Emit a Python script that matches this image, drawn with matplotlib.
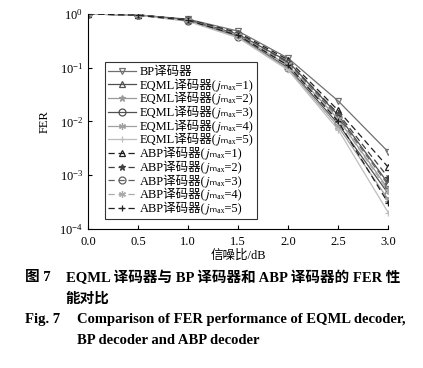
import numpy as np
import matplotlib
matplotlib.use("Agg")
import matplotlib.pyplot as plt

plt.rcParams['font.family'] = ['Liberation Serif', 'Noto Sans CJK SC', 'STIXGeneral', 'DejaVu Sans']
plt.rcParams['mathtext.fontset'] = 'stix'

snr = [0.0, 0.5, 1.0, 1.5, 2.0, 2.5, 3.0]

fer_bp = [1.0, 0.96, 0.80, 0.48, 0.15, 0.024, 2.7e-3]
fer_eqml_1 = [1.0, 0.96, 0.78, 0.42, 0.13, 0.013, 7.0e-4]
fer_eqml_2 = [1.0, 0.95, 0.76, 0.40, 0.11, 0.011, 5.5e-4]
fer_eqml_3 = [1.0, 0.95, 0.75, 0.38, 0.10, 0.009, 4.5e-4]
fer_eqml_4 = [1.0, 0.95, 0.74, 0.37, 0.095, 0.008, 3.5e-4]
fer_eqml_5 = [1.0, 0.95, 0.73, 0.36, 0.09, 0.007, 2.0e-4]
fer_abp_1 = [1.0, 0.96, 0.79, 0.45, 0.14, 0.016, 1.4e-3]
fer_abp_2 = [1.0, 0.96, 0.78, 0.43, 0.125, 0.014, 9.0e-4]
fer_abp_3 = [1.0, 0.96, 0.77, 0.42, 0.12, 0.012, 6.5e-4]
fer_abp_4 = [1.0, 0.95, 0.76, 0.41, 0.115, 0.011, 5.0e-4]
fer_abp_5 = [1.0, 0.95, 0.76, 0.40, 0.11, 0.010, 3.0e-4]

# plain text labels (italic j + subscript "max" as unicode), so the CJK fallback works
labels = ['BP译码器'] + \
    ['EQML译码器(\U0001D457\u2098\u2090\u2093=%d)' % i for i in range(1, 6)] + \
    ['ABP译码器(\U0001D457\u2098\u2090\u2093=%d)' % i for i in range(1, 6)]

series = [fer_bp, fer_eqml_1, fer_eqml_2, fer_eqml_3, fer_eqml_4, fer_eqml_5,
          fer_abp_1, fer_abp_2, fer_abp_3, fer_abp_4, fer_abp_5]

styles = [
    ('#707070', '-', 'v', 'none'),
    ('#505050', '-', '^', 'none'),
    ('#9a9a9a', '-', '*', '#9a9a9a'),
    ('#505050', '-', 'o', 'none'),
    ('#a0a0a0', '-', (6, 2, 0), '#a0a0a0'),
    ('#bdbdbd', '-', '+', 'none'),
    ('#202020', (0, (5, 3)), '^', 'none'),
    ('#404040', (0, (5, 3)), '*', '#404040'),
    ('#606060', (0, (5, 3)), 'o', 'none'),
    ('#aaaaaa', (0, (5, 3)), (6, 2, 0), '#aaaaaa'),
    ('#202020', (0, (5, 3)), '+', 'none'),
]

fig = plt.figure(figsize=(4.23, 3.68), dpi=100)
ax = fig.add_axes([0.208, 0.378, 0.71, 0.584])

for vals, lab, (col, ls, mk, mfc) in zip(series, labels, styles):
    ax.semilogy(snr, vals, color=col, linestyle=ls, linewidth=0.9,
                marker=mk, markersize=5, markerfacecolor=mfc,
                markeredgecolor=col, markeredgewidth=0.9, label=lab)

ax.set_xlim(0, 3.0)
ax.set_ylim(1e-4, 1.0)
ax.set_xticks(snr)
ax.set_xticklabels(['%.1f' % v for v in snr])
ax.set_yticks([1e-4, 1e-3, 1e-2, 1e-1, 1.0])
ax.minorticks_off()
ax.tick_params(direction='in', labelsize=9, length=3)
ax.tick_params(axis='x', pad=5)
ax.spines['top'].set_visible(False)
ax.spines['right'].set_visible(False)
ax.set_xlabel('信噪比/dB', fontsize=9, labelpad=1)
ax.set_ylabel('FER', fontsize=9, labelpad=6)

leg = ax.legend(loc='upper left', bbox_to_anchor=(0.055, 0.775), fontsize=9,
                frameon=True, fancybox=False, edgecolor='black',
                handlelength=2.2, handletextpad=0.3, labelspacing=0.05,
                borderpad=0.3, borderaxespad=0)
leg.get_frame().set_linewidth(0.8)

cap = dict(fontsize=10.5, fontweight='bold', va='center', ha='left')
fig.text(0.06, 1 - 278 / 368, '图 7', **cap)
fig.text(0.155, 1 - 278 / 368, 'EQML 译码器与 BP 译码器和 ABP 译码器的 FER 性', **cap)
fig.text(0.155, 1 - 299 / 368, '能对比', **cap)
fig.text(0.06, 1 - 320 / 368, 'Fig. 7', **cap)
fig.text(0.182, 1 - 320 / 368, 'Comparison of FER performance of EQML decoder,', **cap)
fig.text(0.182, 1 - 341 / 368, 'BP decoder and ABP decoder', **cap)

fig.savefig('out.png', dpi=100)
